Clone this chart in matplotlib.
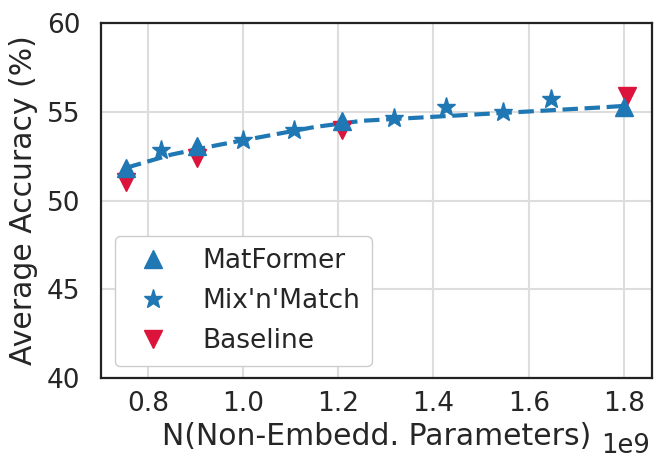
import numpy as np
from matplotlib import pyplot as plt

# Daten
mat_x = [0.754, 0.903, 1.208, 1.800]
mat_y = [51.85, 53.1, 54.5, 55.3]

mix_x = [0.827, 1.000, 1.107, 1.318, 1.427, 1.547, 1.648]
mix_y = [52.85, 53.4, 54.0, 54.65, 55.25, 55.0, 55.75]

base_x = [0.754, 0.903, 1.208, 1.806]
base_y = [51.05, 52.4, 54.0, 55.9]

fit_x = [0.754, 0.85, 0.95, 1.05, 1.15, 1.25, 1.35, 1.45, 1.55, 1.65, 1.75, 1.806]
fit_y = [51.85, 52.6, 53.15, 53.65, 54.15, 54.5, 54.65, 54.8, 54.95, 55.1, 55.25, 55.35]

blue = '#1f77b4'
red = '#dc143c'
txt = '#262626'

plt.rcParams['font.family'] = 'DejaVu Sans'
plt.rcParams['text.color'] = txt
plt.rcParams['axes.labelcolor'] = txt
plt.rcParams['xtick.color'] = txt
plt.rcParams['ytick.color'] = txt

fig = plt.figure(figsize=(6.65, 4.74), dpi=100)
ax = fig.add_axes([0.152, 0.2025, 0.828, 0.7485])

# Kurve
ax.plot(fit_x, fit_y, color=blue, linestyle='--', linewidth=3, zorder=2)
ax.plot(mix_x, mix_y, color=blue, linestyle='', marker='*', markersize=14, label="Mix'n'Match", zorder=3)
ax.plot(base_x, base_y, color=red, linestyle='', marker='v', markersize=13, label='Baseline', zorder=4)
ax.plot(mat_x, mat_y, color=blue, linestyle='', marker='^', markersize=13, label='MatFormer', zorder=5)

# Achsen
ax.set_ylim(40, 60)
ax.set_yticks([40, 45, 50, 55, 60])
ax.set_xticks([0.8, 1.0, 1.2, 1.4, 1.6, 1.8])
ax.set_xticklabels(['0.8', '1.0', '1.2', '1.4', '1.6', '1.8'])
ax.tick_params(axis='both', length=0, labelsize=19)
ax.tick_params(axis='y', pad=15)
ax.tick_params(axis='x', pad=9)
ax.grid(True, color='#dddddd', linewidth=1.5)
ax.set_axisbelow(True)
for s in ax.spines.values():
    s.set_color('#222222')
    s.set_linewidth(1.6)

ax.set_xlabel('N(Non-Embedd. Parameters)', fontsize=21.5, labelpad=4)
ax.set_ylabel('Average Accuracy (%)', fontsize=21.5, labelpad=6)
fig.text(0.978, 0.045, '1e9', fontsize=18.5, ha='right', va='baseline', color=txt)

# Legende
handles, labels = ax.get_legend_handles_labels()
order = [2, 0, 1]
ax.legend([handles[i] for i in order], [labels[i] for i in order],
          loc='lower left', fontsize=19, labelspacing=0.53, handletextpad=0.85,
          borderpad=0.45, borderaxespad=0, edgecolor='#cccccc', framealpha=1.0,
          bbox_to_anchor=(0.025, 0.034))

fig.savefig('out.png', dpi=100)
